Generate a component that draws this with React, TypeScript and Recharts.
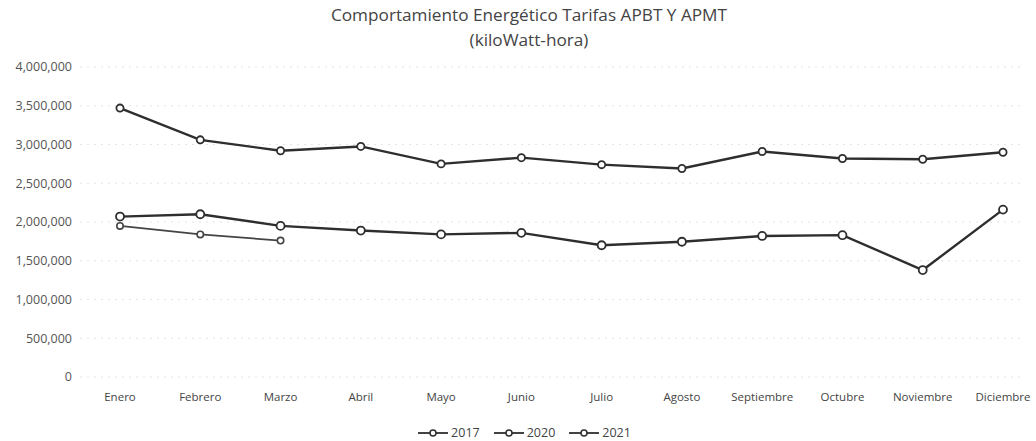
import React from 'react';
import { LineChart, Line, XAxis, YAxis, CartesianGrid, Legend } from 'recharts';

const months = [
  'Enero', 'Febrero', 'Marzo', 'Abril', 'Mayo', 'Junio',
  'Julio', 'Agosto', 'Septiembre', 'Octubre', 'Noviembre', 'Diciembre',
];

const kwh2017 = [3470000, 3060000, 2920000, 2975000, 2750000, 2830000, 2740000, 2690000, 2910000, 2820000, 2810000, 2900000];
const kwh2020 = [2070000, 2100000, 1950000, 1890000, 1840000, 1860000, 1700000, 1745000, 1820000, 1830000, 1380000, 2160000];
const kwh2021 = [1950000, 1840000, 1760000];

const yTicks = [0, 500000, 1000000, 1500000, 2000000, 2500000, 3000000, 3500000, 4000000];

const data = months.map((m, i) => ({
  month: m,
  y2017: kwh2017[i],
  y2020: kwh2020[i],
  y2021: i < kwh2021.length ? kwh2021[i] : null,
}));

const font = '"Open Sans", "Noto Sans", sans-serif';
const ink = '#2e2e2e';

function LegendRow({ payload }: any) {
  return (
    <div style={{ display: 'flex', justifyContent: 'center', gap: 14, fontSize: 12.5, color: '#444', fontFamily: font, paddingLeft: 26, paddingTop: 7 }}>
      {(payload || []).map((p: any) => (
        <div key={p.value} style={{ display: 'flex', alignItems: 'center', gap: 3 }}>
          <svg width={30} height={10}>
            <line x1={0} y1={5} x2={30} y2={5} stroke={ink} strokeWidth={1.8} />
            <circle cx={15} cy={5} r={3} fill="#fff" stroke={ink} strokeWidth={1.5} />
          </svg>
          <span>{p.value}</span>
        </div>
      ))}
    </div>
  );
}

export default function App() {
  return (
    <div style={{ position: 'absolute', left: 0, top: 0, width: 1036, height: 441, background: '#fff', fontFamily: font }}>
      <div
        style={{
          position: 'absolute',
          left: 0,
          top: 2,
          width: 1058,
          textAlign: 'center',
          fontSize: 17.2,
          lineHeight: '25px',
          color: '#444',
        }}
      >
        Comportamiento Energético Tarifas APBT Y APMT
        <br />
        (kiloWatt-hora)
      </div>
      <LineChart
        width={1036}
        height={441}
        data={data}
        margin={{ top: 67, right: 13, bottom: 0, left: 0 }}
      >
        <CartesianGrid vertical={false} stroke="#e4e4e4" strokeDasharray="2 5" />
        <XAxis
          dataKey="month"
          axisLine={false}
          tickLine={false}
          padding={{ left: 40, right: 20 }}
          tick={{ fontSize: 11.5, fill: '#444', fontFamily: font }}
          tickMargin={10}
          interval={0}
          height={40}
        />
        <YAxis
          domain={[0, 4000000]}
          ticks={yTicks}
          axisLine={false}
          tickLine={false}
          width={80}
          tickMargin={2}
          tick={{ fontSize: 12.5, fill: '#555', fontFamily: font }}
          tickFormatter={(v: number) => v.toLocaleString('en-US')}
        />
        <Legend verticalAlign="bottom" align="center" height={24} content={<LegendRow />} />
        <Line
          dataKey="y2017"
          name="2017"
          stroke={ink}
          strokeWidth={2.4}
          dot={{ r: 3.6, fill: '#fff', stroke: ink, strokeWidth: 1.8 }}
          isAnimationActive={false}
        />
        <Line
          dataKey="y2020"
          name="2020"
          stroke={ink}
          strokeWidth={2.4}
          dot={{ r: 4, fill: '#fff', stroke: ink, strokeWidth: 1.8 }}
          isAnimationActive={false}
        />
        <Line
          dataKey="y2021"
          name="2021"
          stroke="#444"
          strokeWidth={1.8}
          dot={{ r: 3.2, fill: '#fff', stroke: '#444', strokeWidth: 1.6 }}
          isAnimationActive={false}
        />
      </LineChart>
    </div>
  );
}
